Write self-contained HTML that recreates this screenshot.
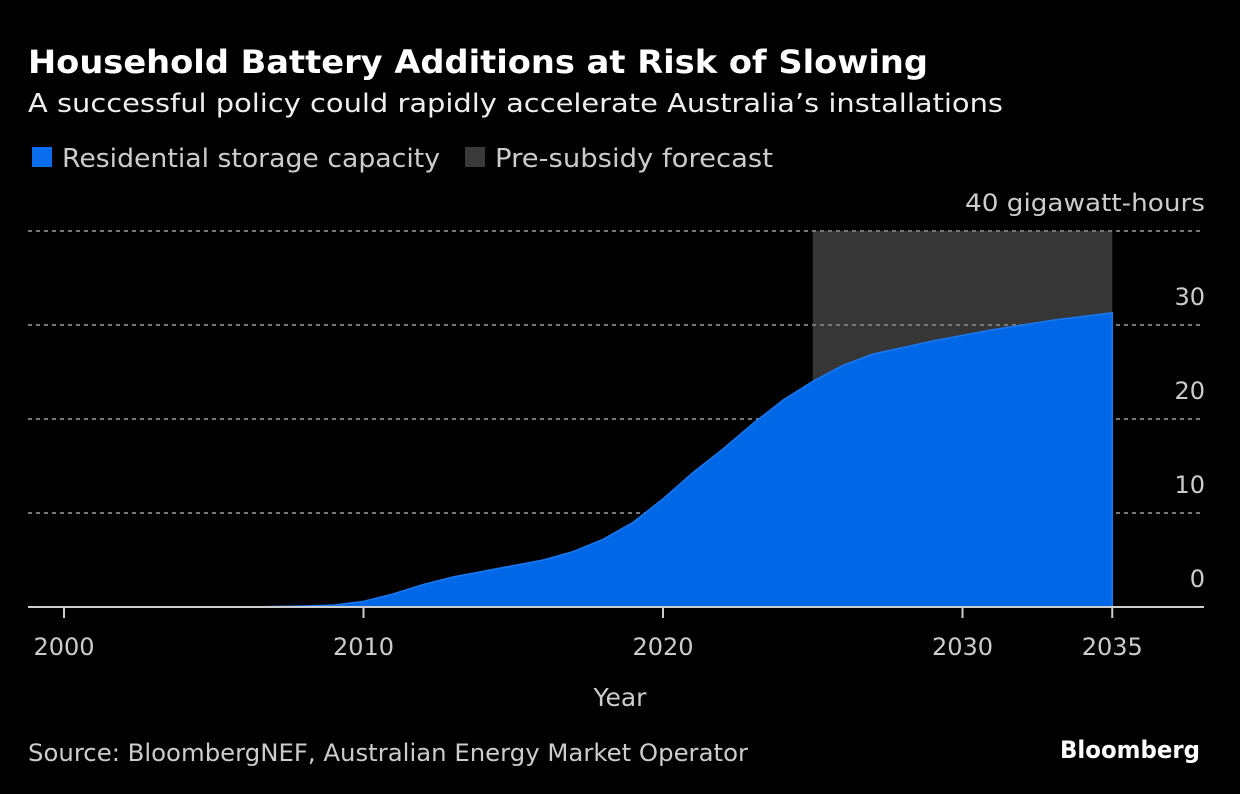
<!DOCTYPE html>
<html><head><meta charset="utf-8"><style>
body{margin:0;background:#000;width:1240px;height:794px;overflow:hidden;font-family:"DejaVu Sans","Liberation Sans",sans-serif;color:#ddd}
svg text{font-family:"DejaVu Sans","Liberation Sans",sans-serif}
</style></head><body>
<svg width="1240" height="794" style="position:absolute;left:0;top:0">
<text x="28" y="73" fill="#fff" font-size="32" font-weight="bold" textLength="900" lengthAdjust="spacingAndGlyphs">Household Battery Additions at Risk of Slowing</text>
<text x="28" y="112" fill="#eee" font-size="26" textLength="975" lengthAdjust="spacingAndGlyphs">A successful policy could rapidly accelerate Australia’s installations</text>
<rect x="32" y="147" width="20" height="20" fill="#0a6ded"/>
<text x="62" y="167" fill="#ccc" font-size="26" textLength="378" lengthAdjust="spacingAndGlyphs">Residential storage capacity</text>
<rect x="465" y="147" width="20" height="20" fill="#3a3a3a"/>
<text x="495" y="167" fill="#ccc" font-size="26" textLength="278" lengthAdjust="spacingAndGlyphs">Pre-subsidy forecast</text>
<g id="plot"></g>
<text x="620" y="706" fill="#ccc" font-size="25" text-anchor="middle">Year</text>
<text x="28" y="761" fill="#ccc" font-size="24" textLength="720" lengthAdjust="spacingAndGlyphs">Source: BloombergNEF, Australian Energy Market Operator</text>
<text x="1060" y="758" fill="#fff" font-size="24" font-weight="bold" textLength="140" lengthAdjust="spacingAndGlyphs">Bloomberg</text>
</svg>
<script>
const years=[2000,2001,2002,2003,2004,2005,2006,2007,2008,2009,2010,2011,2012,2013,2014,2015,2016,2017,2018,2019,2020,2021,2022,2023,2024,2025,2026,2027,2028,2029,2030,2031,2032,2033,2034,2035];
const capacity=[0,0,0,0,0,0,0,0.05,0.1,0.2,0.6,1.4,2.4,3.2,3.8,4.4,5.0,5.9,7.2,9.0,11.5,14.3,16.8,19.5,22.0,24.0,25.7,26.9,27.6,28.3,28.9,29.5,30.0,30.5,30.9,31.3];
const forecastRange=[2025,2035];
const forecastTop=[40];
const yTicks=[0,10,20,30,40];
const xTicks=[2000,2010,2020,2030,2035];
const X=v=>64+(v-2000)*29.95;
const Y=v=>607-v*9.4;
const NS='http://www.w3.org/2000/svg';
const g=document.getElementById('plot');
function mk(t,a){const e=document.createElementNS(NS,t);for(const k in a)e.setAttribute(k,a[k]);g.appendChild(e);return e;}
const r=mk('rect',{x:X(forecastRange[0]),y:Y(forecastTop[0]),width:X(forecastRange[1])-X(forecastRange[0]),height:Y(0)-Y(forecastTop[0]),fill:'#363636'});


yTicks.forEach(t=>{
 if(t>0){const l=mk('line',{x1:28,x2:1204,y1:Y(t),y2:Y(t),stroke:'#777','stroke-width':2,'stroke-dasharray':'4 4'});
 
 }
 const tx=mk('text',{x:1205,y:Y(t)-20,fill:'#ccc','font-size':24,'text-anchor':'end'});
 tx.textContent=t===40?'40 gigawatt-hours':String(t);
 if(t===40){tx.setAttribute('textLength','240');tx.setAttribute('lengthAdjust','spacingAndGlyphs');}
 
 
});
let d='M'+X(years[0])+','+Y(0);
years.forEach((y,i)=>{d+=' L'+X(y)+','+Y(capacity[i]);});
d+=' L'+X(years[years.length-1])+','+Y(0)+' Z';
const a=mk('path',{d:d,fill:'#0068e6',stroke:'#1a78f0','stroke-width':1.5});


const ax=mk('line',{x1:28,x2:1204,y1:Y(0),y2:Y(0),stroke:'#ccc','stroke-width':2});


xTicks.forEach(t=>{
 const l=mk('line',{x1:X(t),x2:X(t),y1:Y(0),y2:Y(0)+11,stroke:'#ccc','stroke-width':2});
 
 
 const tx=mk('text',{x:X(t),y:655,fill:'#ccc','font-size':24,'text-anchor':'middle'});
 tx.textContent=String(t);
 
 
});
</script>
</body></html>
